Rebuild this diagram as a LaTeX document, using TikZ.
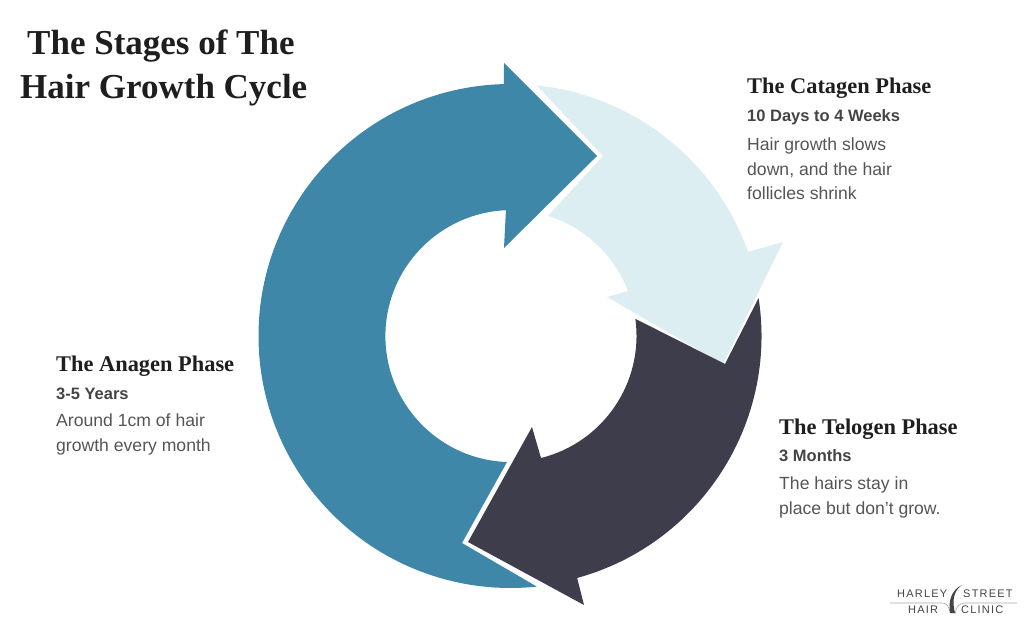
\documentclass[tikz,border=0pt]{standalone}
\usepackage{fontspec}
\setmainfont{Liberation Sans}
\newfontfamily\headfont{Liberation Serif}
\newfontfamily\logofont[LetterSpace=11]{Liberation Sans}
\definecolor{anagenblue}{HTML}{3E87A9}
\definecolor{catagenpale}{HTML}{DCEEF1}
\definecolor{telogendark}{HTML}{3D3D4B}
\definecolor{bodygray}{HTML}{555555}
\definecolor{subgray}{HTML}{444444}
\definecolor{headblack}{HTML}{1E1E1E}
\tikzset{
  maintitle/.style={anchor=base west, inner sep=0pt, text=headblack, font=\headfont\fontsize{35}{35}\selectfont\bfseries},
  phasehead/.style={anchor=base west, inner sep=0pt, text=headblack, font=\headfont\fontsize{22.4}{22.4}\selectfont\bfseries},
  phasesub/.style={anchor=base west, inner sep=0pt, text=subgray, font=\fontsize{16.5}{20}\selectfont\bfseries},
  phasebody/.style={anchor=north west, inner sep=0pt, align=left, text=bodygray, font=\fontsize{17.6}{24.5}\selectfont},
  logotext/.style={anchor=base west, inner sep=0pt, text=subgray, font=\logofont\fontsize{11}{11}\selectfont}
}
\begin{document}
\begin{tikzpicture}[x=1pt, y=1pt]
    \useasboundingbox (0,0) rectangle (1024,622);
    \coordinate (hub) at (510.5,286);
    % arrows
    \fill[anagenblue] (hub) ++(91.5:252) arc[start angle=91.5, end angle=276, radius=252]
        -- (462,79) -- (507,160) arc[start angle=268, end angle=92.5, radius=126]
        -- (504,374) -- (597,466) -- (504,559) -- cycle;
    \fill[catagenpale] (hub) ++(84:252) arc[start angle=84, end angle=19.5, radius=252]
        -- (783,380) -- (723,258) -- (607,325) -- (628,331)
        arc[start angle=21, end angle=72.6, radius=126] -- (603,466) -- cycle;
    \fill[telogendark] (hub) ++(8.7:251) arc[start angle=8.7, end angle=-74.6, radius=251]
        -- (584,17) -- (468,80) -- (532,195) -- (541,164)
        arc[start angle=-76, end angle=7.7, radius=126] -- (725,258) -- cycle;
    % title
    \node[maintitle] (titleone) at (27,567) {The Stages of The};
    \node[maintitle] (titletwo) at (20,523) {Hair Growth Cycle};
    % phases
    \node[phasehead] (catagen) at (747,528) {The Catagen Phase};
    \node[phasesub] (catagensub) at (747,500) {10 Days to 4 Weeks};
    \node[phasebody] (catagenbody) at (747,484) {Hair growth slows\\down, and the hair\\follicles shrink};
    \node[phasehead] (anagen) at (56,251) {The Anagen Phase};
    \node[phasesub] (anagensub) at (56,223) {3-5 Years};
    \node[phasebody] (anagenbody) at (56,208) {Around 1cm of hair\\growth every month};
    \node[phasehead] (telogen) at (779,188) {The Telogen Phase};
    \node[phasesub] (telogensub) at (779,161) {3 Months};
    \node[phasebody] (telogenbody) at (779,145) {The hairs stay in\\place but don’t grow.};
    % logo
    \draw[gray!70, line width=0.6pt] (890,19) -- (942,19) .. controls (947,19) and (949,15) .. (950,10);
    \draw[gray!70, line width=0.6pt] (1017,19) -- (965,19) .. controls (959,19) and (956,15) .. (955,8);
    \fill[subgray] (962,37) .. controls (951,32) and (948,20) .. (950,9)
        -- (955,9) .. controls (952,20) and (953,31) .. cycle;
    \node[logotext] (logoa) at (897,25) {HARLEY};
    \node[logotext] (logob) at (963,25) {STREET};
    \node[logotext] (logoc) at (908,9) {HAIR};
    \node[logotext] (logod) at (961,9) {CLINIC};
\end{tikzpicture}
\end{document}
